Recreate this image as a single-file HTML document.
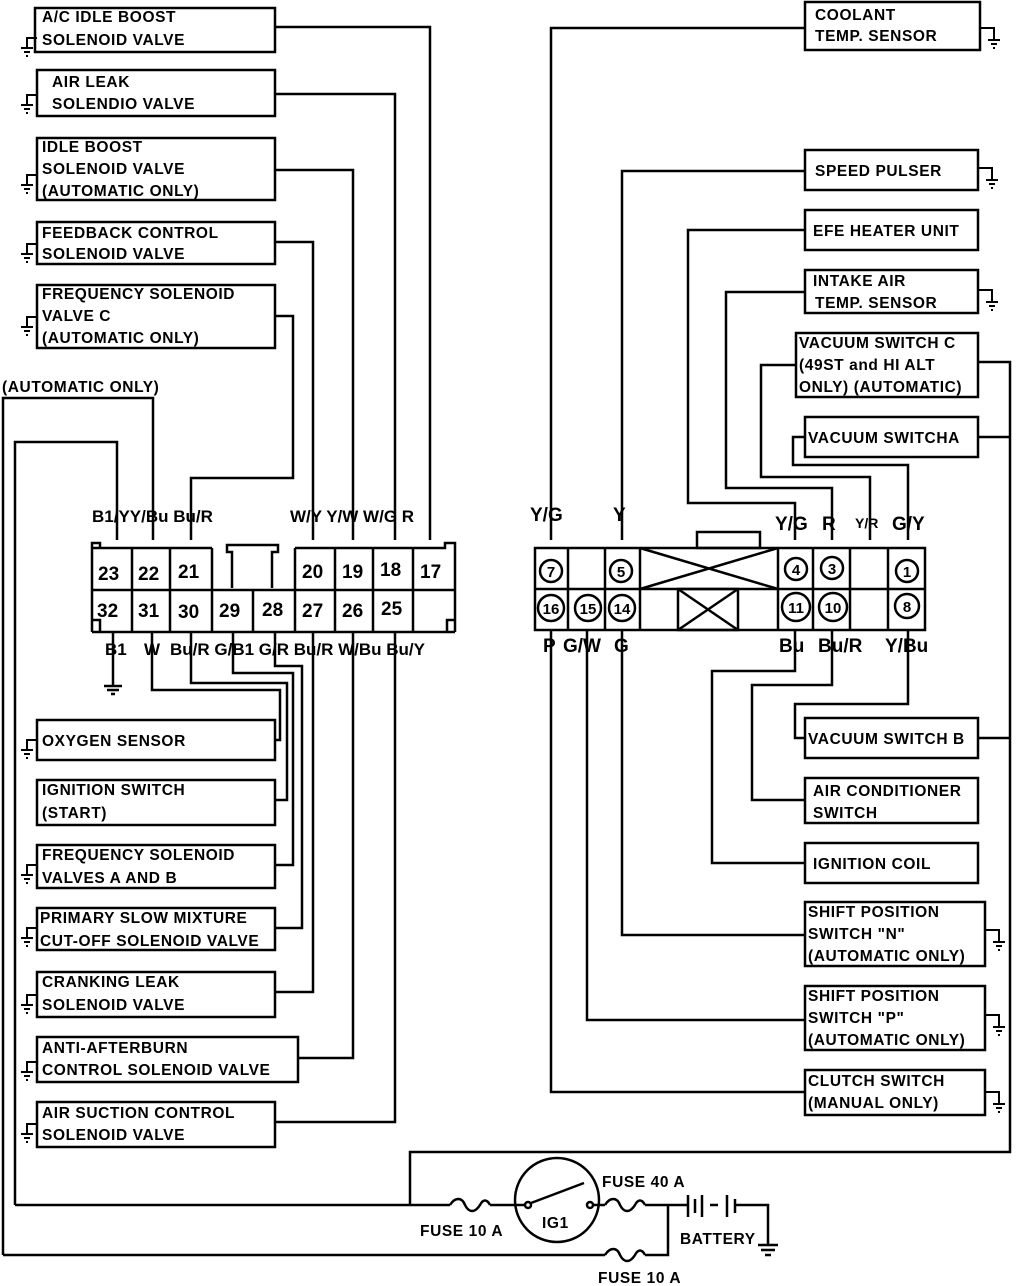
<!DOCTYPE html>
<html><head><meta charset="utf-8"><style>
html,body{margin:0;padding:0;background:#fff;}
svg{display:block;}
text{font-family:"Liberation Sans",sans-serif;font-weight:bold;fill:#000;}
.b{font-size:15.5px;letter-spacing:0.6px;}
.p{font-size:19px;}
.l{font-size:17px;}
</style></head><body>
<svg width="1024" height="1286" viewBox="0 0 1024 1286" xmlns="http://www.w3.org/2000/svg">
<defs>
<g id="gl"><path d="M0 0 H-10 V10 M-16 10 H-4 M-13 14 H-7 M-11 18 H-9" stroke="#000" stroke-width="2" fill="none"/></g>
<g id="gr"><path d="M0 0 H14 V12 M8 12 H20 M11 16 H17 M13 20 H15" stroke="#000" stroke-width="2" fill="none"/></g>
</defs>
<g fill="none" stroke="#000" stroke-width="2.5">
<!-- left boxes -->
<rect x="35" y="8" width="240" height="44"/>
<rect x="37" y="70" width="238" height="46"/>
<rect x="37" y="138" width="238" height="62"/>
<rect x="37" y="222" width="238" height="42"/>
<rect x="37" y="285" width="238" height="63"/>
<rect x="37" y="720" width="238" height="40"/>
<rect x="37" y="780" width="238" height="45"/>
<rect x="37" y="845" width="238" height="43"/>
<rect x="37" y="908" width="238" height="42"/>
<rect x="37" y="972" width="238" height="45"/>
<rect x="37" y="1037" width="261" height="45"/>
<rect x="37" y="1102" width="238" height="45"/>
<!-- right boxes -->
<rect x="805" y="2" width="175" height="48"/>
<rect x="805" y="150" width="173" height="40"/>
<rect x="805" y="210" width="173" height="40"/>
<rect x="805" y="270" width="173" height="43"/>
<rect x="796" y="333" width="182" height="64"/>
<rect x="805" y="417" width="173" height="40"/>
<rect x="805" y="718" width="173" height="40"/>
<rect x="805" y="778" width="173" height="45"/>
<rect x="805" y="843" width="173" height="40"/>
<rect x="805" y="902" width="180" height="64"/>
<rect x="805" y="986" width="180" height="64"/>
<rect x="805" y="1070" width="180" height="45"/>

<!-- left connector -->
<path d="M100 548 V543 H92 V548 M92 548 H212 M295 548 H445 V543 H455 V548 M92 590 H455 M92 632 H455 M92 548 V632 M455 548 V632"/>
<path d="M92 620 H100 V632 M455 620 H447 V632"/>
<path d="M132 548 V632 M170 548 V632 M212 548 V590 M295 548 V632 M335 548 V632 M373 548 V632 M413 548 V632 M212 590 V632 M253 590 V632"/>
<path d="M232 588 V552 H227 V545 H278 V552 H272 V588"/>
<!-- right connector -->
<rect x="535" y="548" width="390" height="82"/>
<path d="M535 589 H925 M568 548 V630 M605 548 V630 M640 548 V630 M778 548 V630 M813 548 V630 M850 548 V630 M888 548 V630"/>
<path d="M640 548 L778 589 M640 589 L778 548"/>
<rect x="678" y="589" width="60" height="41"/>
<path d="M678 589 L738 630 M678 630 L738 589"/>
<rect x="697" y="532" width="63" height="16"/>

<!-- left wires top -->
<path d="M275 27 H430 V540"/>
<path d="M275 94 H395 V540"/>
<path d="M275 170 H353 V540"/>
<path d="M275 242 H313 V540"/>
<path d="M275 316 H293 V478 H191 V540"/>
<path d="M153 540 V398 H3 V1255"/>
<path d="M117 540 V442 H15 V1205"/>
<!-- left wires bottom -->
<path d="M113 632 V686"/>
<path d="M104 686 H122 M107 690 H119 M111 694 H115"/>
<path d="M152 632 V690 H280 V740 H275"/>
<path d="M191 632 V683 H287 V800 H275"/>
<path d="M233 632 V673 H293 V865 H275"/>
<path d="M275 632 V666 H302 V928 H275"/>
<path d="M313 632 V992 H275"/>
<path d="M353 632 V1058 H298"/>
<path d="M395 632 V1122 H275"/>
<!-- right wires top -->
<path d="M551 540 V28 H805"/>
<path d="M622 540 V171 H805"/>
<path d="M795 540 V503 H688 V230 H805"/>
<path d="M832 540 V488 H726 V292 H805"/>
<path d="M870 540 V477 H761 V365 H796"/>
<path d="M908 540 V465 H793 V437 H805"/>
<path d="M978 362 H1010 V1152 H410 V1205"/>
<path d="M978 437 H1010 M978 738 H1010"/>
<!-- right wires bottom -->
<path d="M795 630 V671 H712 V863 H805"/>
<path d="M832 630 V685 H752 V800 H805"/>
<path d="M908 630 V704 H795 V738 H805"/>
<path d="M622 630 V935 H805"/>
<path d="M587 630 V1020 H805"/>
<path d="M551 630 V1092 H805"/>
<!-- power circuit -->
<path d="M15 1205 H450 M490 1205 H525 M592 1205 H605 M645 1205 H688"/>
<path d="M450 1205 c5 -8 12 -8 15 0 c4 8 10 8 15 0 c3 -6 7 -6 10 0"/>
<path d="M605 1205 c5 -8 12 -8 15 0 c4 8 10 8 15 0 c3 -6 7 -6 10 0"/>
<circle cx="557" cy="1200" r="42"/>
<circle cx="528" cy="1205" r="3"/>
<circle cx="590" cy="1205" r="3"/>
<path d="M531 1203 L584 1183"/>
<path d="M3 1255 H605 M645 1255 H668 V1205"/>
<path d="M605 1255 c5 -8 12 -8 15 0 c4 8 10 8 15 0 c3 -6 7 -6 10 0"/>
<path d="M688 1195 V1217 M695 1199 V1213 M702 1195 V1217 M710 1205 H718 M727 1195 V1217 M735 1199 V1213"/>
<path d="M735 1205 H768 V1245 M758 1245 H778 M761 1250 H775 M765 1255 H771"/>
</g>
<!-- grounds left -->
<use href="#gl" x="37" y="38"/>
<use href="#gl" x="37" y="95"/>
<use href="#gl" x="37" y="175"/>
<use href="#gl" x="37" y="244"/>
<use href="#gl" x="37" y="317"/>
<use href="#gl" x="37" y="740"/>
<use href="#gl" x="37" y="865"/>
<use href="#gl" x="37" y="928"/>
<use href="#gl" x="37" y="995"/>
<use href="#gl" x="37" y="1062"/>
<use href="#gl" x="37" y="1124"/>
<!-- grounds right -->
<use href="#gr" x="980" y="28"/>
<use href="#gr" x="978" y="168"/>
<use href="#gr" x="978" y="290"/>
<use href="#gr" x="985" y="930"/>
<use href="#gr" x="985" y="1015"/>
<use href="#gr" x="985" y="1092"/>

<!-- left box text -->
<text class="b" x="42" y="22">A/C IDLE BOOST</text>
<text class="b" x="42" y="45">SOLENOID VALVE</text>
<text class="b" x="52" y="87">AIR LEAK</text>
<text class="b" x="52" y="109">SOLENDIO VALVE</text>
<text class="b" x="42" y="152">IDLE BOOST</text>
<text class="b" x="42" y="174">SOLENOID VALVE</text>
<text class="b" x="42" y="196">(AUTOMATIC ONLY)</text>
<text class="b" x="42" y="238">FEEDBACK CONTROL</text>
<text class="b" x="42" y="259">SOLENOID VALVE</text>
<text class="b" x="42" y="299">FREQUENCY SOLENOID</text>
<text class="b" x="42" y="321">VALVE C</text>
<text class="b" x="42" y="343">(AUTOMATIC ONLY)</text>
<text class="b" x="2" y="392">(AUTOMATIC ONLY)</text>
<text class="b" x="42" y="746">OXYGEN SENSOR</text>
<text class="b" x="42" y="795">IGNITION SWITCH</text>
<text class="b" x="42" y="818">(START)</text>
<text class="b" x="42" y="860">FREQUENCY SOLENOID</text>
<text class="b" x="42" y="883">VALVES A AND B</text>
<text class="b" x="40" y="923">PRIMARY SLOW MIXTURE</text>
<text class="b" x="40" y="946">CUT-OFF SOLENOID VALVE</text>
<text class="b" x="42" y="987">CRANKING LEAK</text>
<text class="b" x="42" y="1010">SOLENOID VALVE</text>
<text class="b" x="42" y="1053">ANTI-AFTERBURN</text>
<text class="b" x="42" y="1075">CONTROL SOLENOID VALVE</text>
<text class="b" x="42" y="1118">AIR SUCTION CONTROL</text>
<text class="b" x="42" y="1140">SOLENOID VALVE</text>
<!-- right box text -->
<text class="b" x="815" y="20">COOLANT</text>
<text class="b" x="815" y="41">TEMP. SENSOR</text>
<text class="b" x="815" y="176">SPEED PULSER</text>
<text class="b" x="813" y="236">EFE HEATER UNIT</text>
<text class="b" x="813" y="286">INTAKE AIR</text>
<text class="b" x="815" y="308">TEMP. SENSOR</text>
<text class="b" x="799" y="348">VACUUM SWITCH C</text>
<text class="b" x="799" y="370">(49ST and HI ALT</text>
<text class="b" x="799" y="392">ONLY) (AUTOMATIC)</text>
<text class="b" x="808" y="443">VACUUM SWITCHA</text>
<text class="b" x="808" y="744">VACUUM SWITCH B</text>
<text class="b" x="813" y="796">AIR CONDITIONER</text>
<text class="b" x="813" y="818">SWITCH</text>
<text class="b" x="813" y="869">IGNITION COIL</text>
<text class="b" x="808" y="917">SHIFT POSITION</text>
<text class="b" x="808" y="939">SWITCH "N"</text>
<text class="b" x="808" y="961">(AUTOMATIC ONLY)</text>
<text class="b" x="808" y="1001">SHIFT POSITION</text>
<text class="b" x="808" y="1023">SWITCH "P"</text>
<text class="b" x="808" y="1045">(AUTOMATIC ONLY)</text>
<text class="b" x="808" y="1086">CLUTCH SWITCH</text>
<text class="b" x="808" y="1108">(MANUAL ONLY)</text>

<!-- left connector labels -->
<text class="l" x="92" y="522">B1/YY/Bu Bu/R</text>
<text class="l" x="290" y="522">W/Y  Y/W  W/G  R</text>
<text class="l" x="105" y="655">B1</text>
<text class="l" x="144" y="655">W</text>
<text class="l" x="170" y="655">Bu/R G/B1 G/R Bu/R W/Bu Bu/Y</text>
<text class="p" x="98" y="580">23</text>
<text class="p" x="138" y="580">22</text>
<text class="p" x="178" y="578">21</text>
<text class="p" x="302" y="578">20</text>
<text class="p" x="342" y="578">19</text>
<text class="p" x="380" y="576">18</text>
<text class="p" x="420" y="578">17</text>
<text class="p" x="97" y="617">32</text>
<text class="p" x="138" y="617">31</text>
<text class="p" x="178" y="618">30</text>
<text class="p" x="219" y="617">29</text>
<text class="p" x="262" y="616">28</text>
<text class="p" x="302" y="617">27</text>
<text class="p" x="342" y="617">26</text>
<text class="p" x="381" y="615">25</text>
<!-- right connector labels -->
<text class="p" x="530" y="521">Y/G</text>
<text class="p" x="613" y="521">Y</text>
<text class="p" x="775" y="530">Y/G</text>
<text class="p" x="822" y="530">R</text>
<text x="855" y="528" style="font-size:14px">Y/R</text>
<text class="p" x="892" y="530">G/Y</text>
<text class="p" x="543" y="652">P</text>
<text class="p" x="563" y="652">G/W</text>
<text class="p" x="614" y="652">G</text>
<text class="p" x="779" y="652">Bu</text>
<text class="p" x="818" y="652">Bu/R</text>
<text class="p" x="885" y="652">Y/Bu</text>
<g fill="none" stroke="#000" stroke-width="2.5">
<circle cx="551" cy="571" r="11"/><circle cx="621" cy="571" r="11"/>
<circle cx="796" cy="569" r="11"/><circle cx="832" cy="568" r="11"/><circle cx="907" cy="571" r="11"/>
<circle cx="551" cy="608" r="13"/><circle cx="588" cy="608" r="13"/><circle cx="622" cy="608" r="13"/>
<circle cx="796" cy="607" r="14"/><circle cx="833" cy="607" r="14"/><circle cx="907" cy="606" r="12"/>
</g>
<g style="font-size:15px" text-anchor="middle">
<text x="551" y="577">7</text><text x="621" y="577">5</text>
<text x="796" y="575">4</text><text x="832" y="574">3</text><text x="907" y="577">1</text>
<text x="551" y="614">16</text><text x="588" y="614">15</text><text x="622" y="614">14</text>
<text x="796" y="613">11</text><text x="833" y="613">10</text><text x="907" y="612">8</text>
</g>
<!-- power labels -->
<text class="b" x="420" y="1236">FUSE 10 A</text>
<text class="b" x="542" y="1228">IG1</text>
<text class="b" x="602" y="1187">FUSE 40 A</text>
<text class="b" x="680" y="1244">BATTERY</text>
<text class="b" x="598" y="1283">FUSE 10 A</text>
</svg>
</body></html>
